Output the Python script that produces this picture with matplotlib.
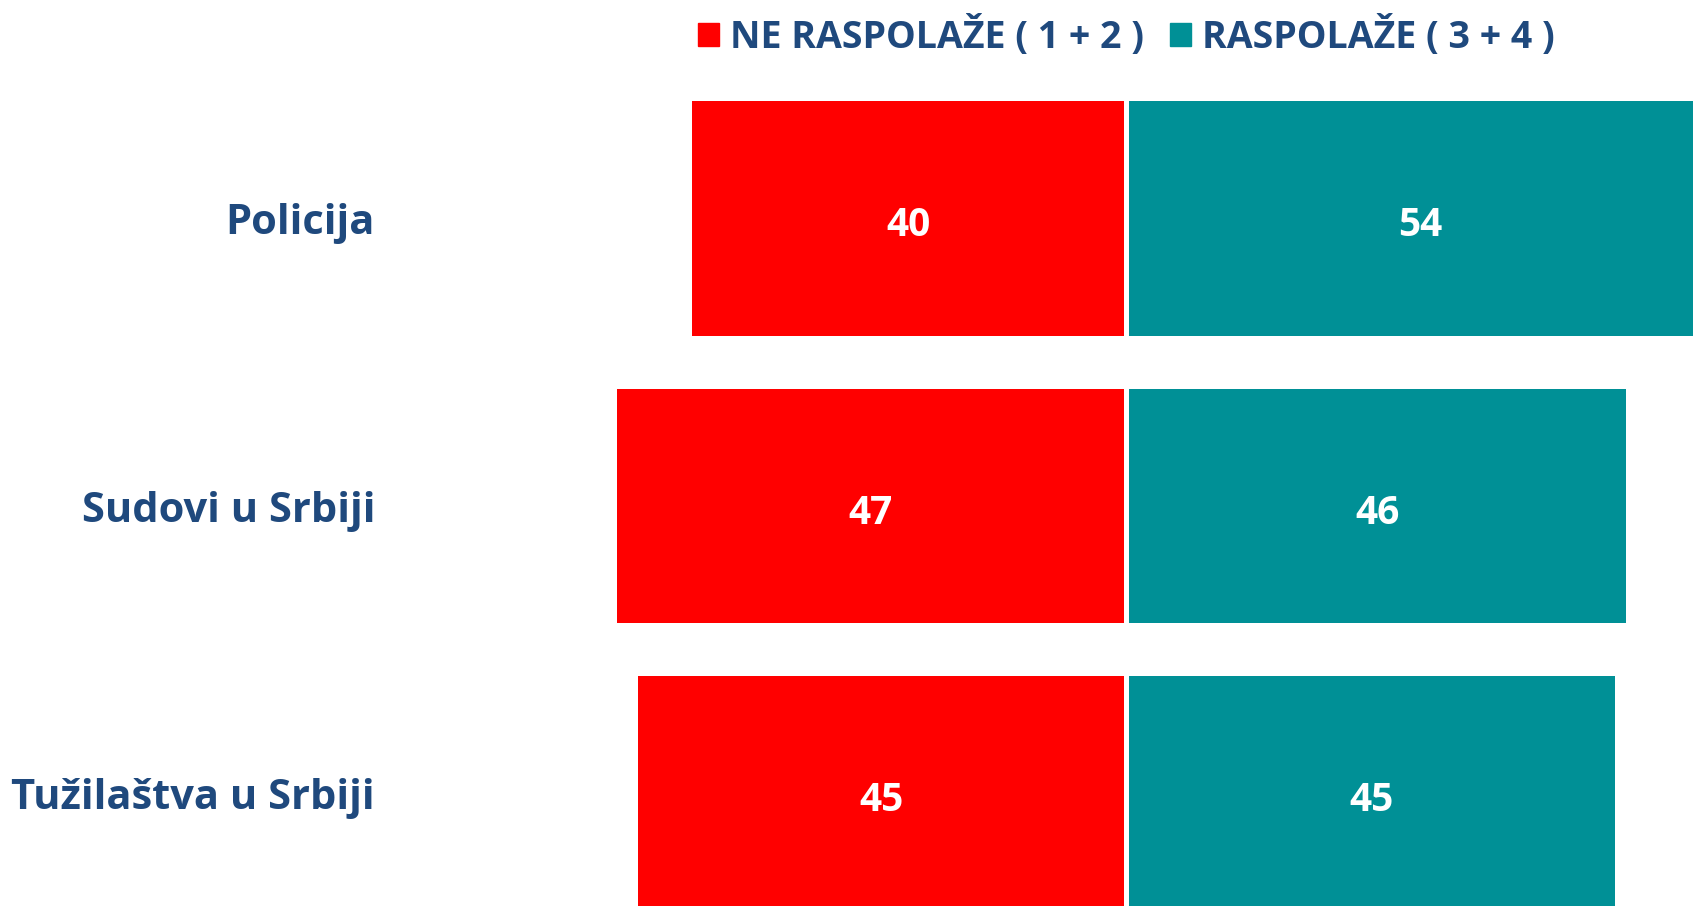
import matplotlib.pyplot as plt
from matplotlib.patches import Patch

categories = ['Policija', 'Sudovi u Srbiji', 'Tužilaštva u Srbiji']
ne_raspolaze = [40, 47, 45]
raspolaze = [54, 46, 45]
legend_labels = ['NE RASPOLAŽE ( 1 + 2 )', 'RASPOLAŽE ( 3 + 4 )']

RED = '#FF0000'
TEAL = '#009096'
NAVY = '#1F497D'

plt.rcParams['font.family'] = ['Open Sans', 'DejaVu Sans']
plt.rcParams['font.weight'] = 'bold'

W, H = 1693, 906
fig = plt.figure(figsize=(W / 100, H / 100), dpi=100)
ax = fig.add_axes([400 / W, 0, 1 - 400 / W, 831 / H])

px = 10.8  # pixels per percent
center = 1126
ax.set_xlim((400 - center) / px, (W - center) / px)
ax.set_ylim(2.391, -0.499)

y = range(len(categories))
bh = 0.817
red_bars = ax.barh(y, [-v for v in ne_raspolaze], height=bh, left=-0.15, color=RED)
teal_bars = ax.barh(y, raspolaze, height=bh, left=0.25, color=TEAL)

for bars, vals in [(red_bars, ne_raspolaze), (teal_bars, raspolaze)]:
    for b, v in zip(bars, vals):
        cx = b.get_x() + b.get_width() / 2
        cy = b.get_y() + b.get_height() / 2
        ax.text(cx, cy + 0.025, str(v), ha='center', va='center', color='white',
                fontsize=28, fontweight='bold')

ax.set_yticks(list(y))
ax.set_yticklabels(categories, fontsize=30, fontweight='bold', color=NAVY)
ax.tick_params(axis='y', length=0, pad=18)
ax.set_xticks([])
for s in ax.spines.values():
    s.set_visible(False)

handles = [Patch(color=RED), Patch(color=TEAL)]
leg = fig.legend(handles, legend_labels, loc='center left',
                 bbox_to_anchor=(698 / W, 1 - 36 / H), ncol=2, frameon=False,
                 fontsize=27, handlelength=0.55, handleheight=0.55,
                 handletextpad=0.3, columnspacing=0.7, borderpad=0,
                 borderaxespad=0)
for t in leg.get_texts():
    t.set_color(NAVY)
    t.set_fontweight('bold')

fig.savefig('out.png', dpi=100)
